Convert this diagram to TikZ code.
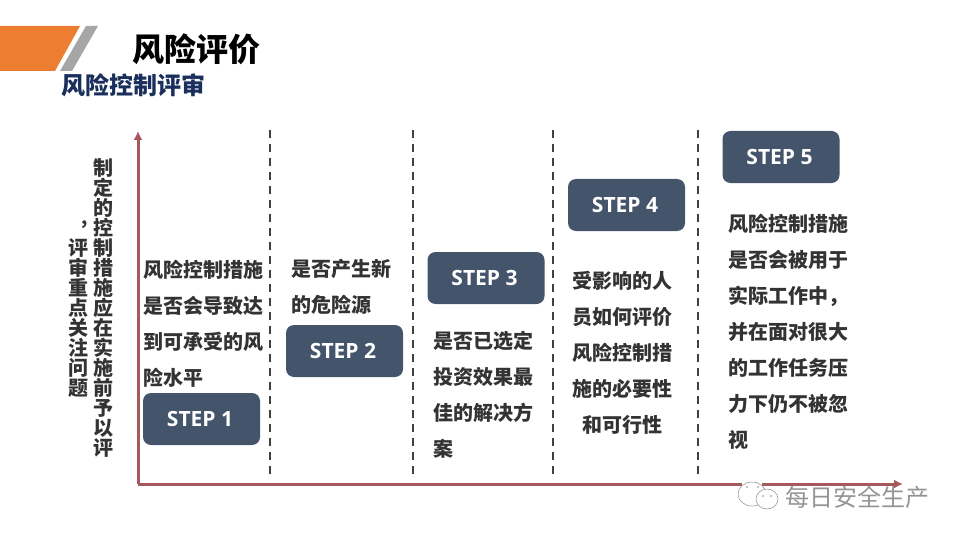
\documentclass[tikz,border=0pt]{standalone}
\usepackage{fontspec}
\usetikzlibrary{arrows.meta}
\setsansfont{Open Sans}
\newfontfamily\cjk{Noto Sans CJK SC}
\definecolor{barorange}{HTML}{ED7D31}
\definecolor{stepblue}{HTML}{44546A}
\definecolor{axisred}{HTML}{A5595F}
\definecolor{bodygrey}{HTML}{333333}
\definecolor{subblue}{HTML}{1A2F5C}
\begin{document}
\begin{tikzpicture}[x = 1pt, y = -1pt,
        stepbox/.style = {fill = stepblue, rounded corners = 8pt, minimum width = 117pt, minimum height = 52pt, inner sep = 0pt, text = white, font = \fontsize{21}{24}\selectfont\sffamily\bfseries},
        bodytext/.style = {inner sep = 0pt, text = bodygrey, font = \fontsize{20}{36}\selectfont\cjk\bfseries},
        sidetext/.style = {inner sep = 0pt, align = center, text = bodygrey, font = \fontsize{20}{20}\selectfont\cjk\bfseries},
        axisline/.style = {draw = axisred, line width = 3pt, -{Latex[length = 9pt, width = 9pt]}},
        stepline/.style = {draw = black!75, line width = 1.5pt, dash pattern = on 8pt off 6pt},
        markline/.style = {draw = black!45, fill = white, line width = 0.5pt}]
            \useasboundingbox (0,0) rectangle (960,540);
            \fill [barorange] (0,26) -- (80,26) -- (55,71) -- (0,71) -- cycle;  %Balken
            \fill [black!35] (86,26) -- (98,26) -- (72,71) -- (60,71) -- cycle;
            \node (title) [inner sep = 0pt, font = \fontsize{32}{36}\selectfont\cjk\bfseries] at (196,49) {风险评价};
            \node (subtitle) [inner sep = 0pt, text = subblue, font = \fontsize{24}{28}\selectfont\cjk\bfseries] at (133.500,85) {风险控制评审};
            \coordinate (origin) at (138,484);                  %Achsen
            \coordinate (top) at (138,131);
            \coordinate (right) at (903,484);
            \draw [axisline] (origin) -- (top);
            \draw [axisline] (origin) -- (right);
            \coordinate (d1top) at (270,130);                   %Trennlinien
            \coordinate (d1bot) at (270,475);
            \coordinate (d2top) at (413,130);
            \coordinate (d2bot) at (413,475);
            \coordinate (d3top) at (553,130);
            \coordinate (d3bot) at (553,475);
            \coordinate (d4top) at (698,130);
            \coordinate (d4bot) at (698,475);
            \draw [stepline] (d1top) -- (d1bot);
            \draw [stepline] (d2top) -- (d2bot);
            \draw [stepline] (d3top) -- (d3bot);
            \draw [stepline] (d4top) -- (d4bot);
            \node (side1) [sidetext] at (103,308) {制\\定\\的\\控\\制\\措\\施\\应\\在\\实\\施\\前\\予\\以\\评};
            \node (side2) [sidetext] at (78.500,318) {评\\审\\重\\点\\关\\注\\问\\题};
            \node (comma) [inner sep = 0pt, text = bodygrey, font = \fontsize{18}{20}\selectfont\cjk\bfseries] at (85,225) {,};
            \node (step1) [stepbox] at (201.500,419) {STEP 1\kern 3pt};
            \node (step2) [stepbox] at (344.500,351) {STEP 2\kern 3pt};
            \node (step3) [stepbox] at (486,278) {STEP 3\kern 3pt};
            \node (step4) [stepbox] at (626.500,205) {STEP 4\kern 3pt};
            \node (step5) [stepbox] at (781,157) {STEP 5\kern 3pt};
            \node (text1) [bodytext, align = left] at (203,324) {风险控制措施\\是否会导致达\\到可承受的风\\险水平};
            \node (text2) [bodytext, align = left] at (341,287) {是否产生新\\的危险源};
            \node (text3) [bodytext, align = left] at (483,395) {是否已选定\\投资效果最\\佳的解决方\\案};
            \node (text4) [bodytext, align = center] at (622,353) {受影响的人\\员如何评价\\风险控制措\\施的必要性\\和可行性};
            \node (text5) [bodytext, align = left] at (788,332) {风险控制措施\\是否会被用于\\实际工作中，\\并在面对很大\\的工作任务压\\力下仍不被忽\\视};
            \fill [white] (742,481) rectangle (762,487);        %Wasserzeichen
            \draw [markline] (752,494) ellipse (14pt and 12pt);
            \draw [markline] (767,499) ellipse (11pt and 10pt);
            \fill [black!45] (747,487) circle (0.9pt) (758,487) circle (0.9pt) (763,496) circle (0.8pt) (771,496) circle (0.8pt);
            \node (mark) [inner sep = 0pt, text = black!42, font = \fontsize{24}{28}\selectfont\cjk] at (857,497) {每日安全生产};
        \end{tikzpicture}
\end{document}
